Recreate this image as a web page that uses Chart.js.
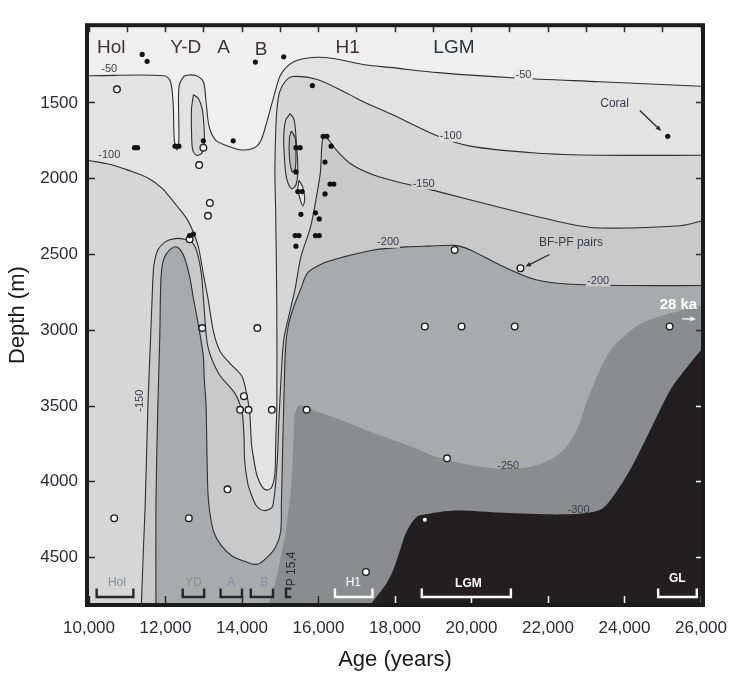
<!DOCTYPE html>
<html>
<head>
<meta charset="utf-8">
<script src="https://cdn.jsdelivr.net/npm/chart.js@4.4.1/dist/chart.umd.min.js"></script>
<style>
  html, body { margin: 0; padding: 0; background: #ffffff; }
  #wrap { width: 749px; height: 675px; }
</style>
</head>
<body>
<div id="wrap"><canvas id="sectionChart" width="749" height="675"></canvas></div>
<script>
// axis limits
const AGE_MIN = 10000, AGE_MAX = 26000;
const DEPTH_MIN = 1000, DEPTH_MAX = 4800;

// contour lines of the section, [age (years), depth (m)]
const contour50 = [[10000,1320],[11970,1320],[12130,1360],[12200,1505],[12230,1745],[12300,1810],[12350,1745],[12350,1400],[12480,1325],[12610,1315],[12810,1320],[12990,1360],[13060,1490],[13140,1655],[13310,1745],[13640,1785],[14000,1810],[14330,1795],[14500,1745],[14660,1615],[14830,1460],[15010,1315],[15340,1230],[15840,1200],[16350,1205],[17240,1250],[17870,1265],[19130,1300],[21160,1335],[23360,1360],[26000,1390]];
const contour100 = [[10000,1880],[10530,1905],[11040,1945],[11540,1995],[11920,2065],[12300,2180],[12560,2265],[12730,2355],[12860,2450],[12990,2630],[13110,2790],[13260,3015],[13440,3145],[13690,3220],[14000,3305],[14120,3420],[14200,3540],[14250,3755],[14330,3885],[14400,3965],[14530,4035],[14660,4055],[14780,4035],[14860,3945],[14880,3755],[14910,3500],[14910,2855],[14880,2215],[14860,1955],[14880,1700],[14910,1550],[14980,1430],[15140,1355],[15340,1325],[15970,1345],[16810,1445],[17240,1500],[17870,1570],[19130,1720],[19970,1785],[21660,1830],[23360,1845],[26000,1845]];
const loop100 = [[12730,1445],[12860,1470],[12960,1540],[13010,1670],[13010,1785],[12940,1835],[12810,1845],[12710,1810],[12680,1680],[12680,1540],[12730,1445]];
const contour150 = [[26000,2280],[25460,2310],[23360,2325],[22500,2295],[20830,2195],[19130,2085],[18300,2035],[17440,1975],[16860,1905],[16480,1815],[16270,1745],[16170,1725],[16100,1750],[16050,1955],[15970,2085],[15790,2320],[15540,2515],[15390,2725],[15240,2890],[15090,3065],[15010,3370],[14960,3625],[14930,3820],[14880,4010],[14830,4120],[14780,4170],[14580,4190],[14380,4160],[14230,4075],[14150,4010],[14070,3865],[14050,3690],[14000,3540],[13820,3420],[13390,3285],[13110,3110],[13010,2855],[12940,2630],[12830,2490],[12710,2425],[12500,2400],[12250,2395],[12000,2415],[11800,2470],[11700,2565],[11670,2665],[11640,2855],[11590,3175],[11540,3500],[11470,4140],[11420,4460],[11370,4800]];
const contour200 = [[26000,2705],[24190,2705],[22500,2695],[21660,2665],[20830,2580],[19970,2470],[19560,2440],[18880,2445],[18300,2450],[17440,2470],[16600,2520],[16150,2555],[15720,2620],[15540,2725],[15340,2855],[15210,2970],[15140,3110],[15090,3500],[15060,3820],[15030,4140],[15010,4330],[14880,4430],[14630,4505],[14380,4545],[14070,4525],[13740,4490],[13440,4415],[13260,4330],[13160,4205],[13110,4075],[13080,3755],[13060,3500],[13010,3305],[12990,3175],[12860,2965],[12730,2790],[12630,2645],[12480,2510],[12300,2450],[12130,2465],[11970,2520],[11900,2600],[11870,2745],[11850,3050],[11800,3500],[11750,4140],[11750,4800]];
const region250 = [[15460,3500],[15640,3500],[15890,3530],[16730,3605],[17560,3690],[18300,3755],[19130,3840],[19970,3890],[20830,3915],[21660,3895],[22350,3805],[22750,3660],[23000,3480],[23360,3260],[23640,3130],[23940,3050],[24370,2965],[25030,2900],[26000,2840],[26000,4800],[14710,4800],[14880,4655],[15140,4330],[15290,4010],[15340,3755],[15370,3560]];
const region300 = [[17390,4800],[17740,4685],[17940,4590],[18120,4460],[18300,4330],[18550,4235],[18800,4215],[19560,4190],[20830,4205],[22500,4215],[23360,4185],[23760,4075],[24190,3900],[24700,3645],[25210,3390],[25710,3220],[26000,3130],[26000,4800]];
const loopH1Outer = [[15260,1570],[15360,1610],[15410,1720],[15460,1935],[15410,2040],[15290,2065],[15160,1990],[15110,1860],[15090,1730],[15140,1615],[15260,1570]];
const loopH1Inner = [[15290,1685],[15390,1730],[15410,1830],[15390,1935],[15310,1955],[15240,1860],[15240,1730],[15290,1685]];
const loopH1Lower = [[15490,2010],[15590,2055],[15640,2135],[15590,2180],[15520,2135],[15460,2070],[15490,2010]];

// benthic-planktonic pairs (open circles)
const pairAge = [10730,12880,12990,13160,13110,12630,12960,14400,14050,13950,14170,14780,15690,13620,10660,12610,17240,19560,21280,18780,19740,21130,25180,19360];
const pairDepth = [1410,1910,1795,2160,2245,2400,2985,2985,3435,3525,3525,3525,3525,4050,4240,4240,4595,2470,2590,2975,2975,2975,2975,3845];
// coral samples (black dots)
const coralAge = [11390,11520,14350,15090,15840,13770,12250,12350,12990,11190,11270,12630,12730,15410,15520,15410,15460,15570,15540,15920,16020,15390,15490,15920,16020,15410,16120,16220,16330,16170,16300,16400,16170,25130];
const coralDepth = [1180,1225,1230,1195,1385,1750,1785,1785,1750,1795,1795,2375,2365,1795,1795,1955,2085,2085,2235,2225,2265,2375,2375,2375,2375,2445,1720,1720,1785,1890,2035,2035,2100,1720];
const deepAge = [18780];
const deepDepth = [4250];

// tick labels
const ageTicks = [10000,12000,14000,16000,18000,20000,22000,24000,26000];
const depthTicks = [1500,2000,2500,3000,3500,4000,4500];

Chart.defaults.font.family = "'Liberation Sans', Arial, Helvetica, sans-serif";

const onBoundary = p => p[0] === AGE_MIN || p[0] === AGE_MAX || p[1] === DEPTH_MAX;
// doubled edge points keep the spline from bulging at the frame
const pin = pts => pts.flatMap(p => onBoundary(p) ? [p, p] : [p]).map(p => ({ x: p[0], y: p[1] }));
const belowLeft = line => pin(line.concat([[AGE_MAX, DEPTH_MAX], [AGE_MIN, DEPTH_MAX]]));
const belowRight = line => pin(line.concat([[AGE_MAX, DEPTH_MAX]]));

const TENSION = 0.3;

function area(points, fillColor) {
  return {
    data: points, showLine: true, fill: 'shape', backgroundColor: fillColor,
    borderWidth: 0, pointRadius: 0, pointHoverRadius: 0, tension: TENSION
  };
}

function contourLine(points) {
  return {
    data: pin(points), showLine: true, fill: false, borderColor: '#2e2e2e',
    borderWidth: 1.1, pointRadius: 0, pointHoverRadius: 0, tension: TENSION
  };
}

function markers(ages, depths, radius, fillColor, lineColor, lineWidth) {
  return {
    data: ages.map((a, i) => ({ x: a, y: depths[i] })),
    pointRadius: radius, pointHoverRadius: radius,
    pointBackgroundColor: fillColor, pointBorderColor: lineColor, pointBorderWidth: lineWidth
  };
}

const layers = [
  area(belowLeft(contour50), '#e3e3e3'),
  area(belowLeft(contour100), '#d6d6d6'),
  area(pin(loop100), '#d6d6d6'),
  area(belowRight(contour150), '#c9c9c9'),
  area(belowRight(contour200), '#a9aaac'),
  area(pin(region250), '#8b8c8e'),
  area(pin(region300), '#231f20'),
  area(pin(loopH1Outer), '#cfcfcf'),
  area(pin(loopH1Inner), '#bdbdbd'),
  area(pin(loopH1Lower), '#e3e3e3'),
  contourLine(contour50),
  contourLine(contour100),
  contourLine(loop100),
  contourLine(contour150),
  contourLine(contour200),
  contourLine(loopH1Outer),
  contourLine(loopH1Inner),
  contourLine(loopH1Lower),
  markers(pairAge, pairDepth, 3.3, '#ffffff', '#1e1e1e', 1.4),
  markers(coralAge, coralDepth, 2.6, '#111111', '#111111', 0),
  markers(deepAge, deepDepth, 2, '#ffffff', '#ffffff', 0)
];
// first entry painted first
layers.forEach((ds, i) => { ds.order = layers.length - i; });

// text placed in the section, at [age, depth]
const notes = [
  { t: 'Hol', a: 10580, d: 1135, size: 19, color: '#3a3435' },
  { t: 'Y-D', a: 12530, d: 1135, size: 19, color: '#3a3435' },
  { t: 'A', a: 13520, d: 1135, size: 19, color: '#3a3435' },
  { t: 'B', a: 14500, d: 1150, size: 19, color: '#3a3435' },
  { t: 'H1', a: 16760, d: 1135, size: 19, color: '#3a3435' },
  { t: 'LGM', a: 19540, d: 1135, size: 19, color: '#2e3040' },
  { t: '-50', a: 10530, d: 1275, size: 11 },
  { t: '-100', a: 10530, d: 1845, size: 11 },
  { t: '-50', a: 21360, d: 1315, size: 11, bg: '#e9e9e9' },
  { t: '-100', a: 19460, d: 1720, size: 11, bg: '#dddddd' },
  { t: '-150', a: 18750, d: 2035, size: 11, bg: '#d0d0d0' },
  { t: '-200', a: 17820, d: 2420, size: 11, bg: '#c9c9c9' },
  { t: '-200', a: 23310, d: 2675, size: 11, bg: '#c9c9c9' },
  { t: '-150', a: 11320, d: 3465, size: 11, rot: -Math.PI / 2 },
  { t: '-250', a: 20960, d: 3895, size: 11 },
  { t: '-300', a: 22800, d: 4185, size: 11 },
  { t: 'Coral', a: 23740, d: 1505, size: 12 },
  { t: 'BF-PF pairs', a: 22600, d: 2425, size: 12 },
  { t: '28 ka', a: 25410, d: 2835, size: 15, bold: true, color: '#ffffff' },
  { t: 'Hol', a: 10730, d: 4665, size: 12, color: '#8a8c9c' },
  { t: 'YD', a: 12730, d: 4665, size: 12, color: '#8a8c9c' },
  { t: 'A', a: 13720, d: 4665, size: 12, color: '#8a8c9c' },
  { t: 'B', a: 14580, d: 4665, size: 12, color: '#8a8c9c' },
  { t: 'P 15,4', a: 15290, d: 4575, size: 12, rot: -Math.PI / 2, color: '#2a2a2a' },
  { t: 'H1', a: 16910, d: 4665, size: 12, color: '#ffffff' },
  { t: 'LGM', a: 19920, d: 4670, size: 12, bold: true, color: '#ffffff' },
  { t: 'GL', a: 25380, d: 4640, size: 12, bold: true, color: '#ffffff' }
];
// period brackets along the bottom
const brackets = [
  { from: 10200, to: 11160, color: '#262626' },
  { from: 12450, to: 13010, color: '#262626' },
  { from: 13440, to: 14000, color: '#262626' },
  { from: 14230, to: 14810, color: '#262626' },
  { from: 16430, to: 17410, color: '#ffffff' },
  { from: 18700, to: 21030, color: '#ffffff' },
  { from: 24880, to: 25890, color: '#ffffff' }
];
const arrows = [
  { from: [24400, 1550], to: [24960, 1685], color: '#2a2a2a' },
  { from: [22040, 2500], to: [21410, 2580], color: '#2a2a2a' },
  { from: [25510, 2925], to: [25870, 2925], color: '#ffffff' }
];

const sectionBackground = {
  id: 'sectionBackground',
  beforeDraw(chart) {
    const { ctx, chartArea: a } = chart;
    ctx.save();
    ctx.fillStyle = '#efefef';
    ctx.fillRect(a.left, a.top, a.right - a.left, a.bottom - a.top);
    ctx.restore();
  }
};

const sectionNotes = {
  id: 'sectionNotes',
  afterDatasetsDraw(chart) {
    const { ctx, scales: { x, y } } = chart;
    const px = v => x.getPixelForValue(v);
    const py = v => y.getPixelForValue(v);
    ctx.save();

    // brackets
    ctx.lineWidth = 2.4;
    brackets.forEach(b => {
      ctx.strokeStyle = b.color;
      ctx.beginPath();
      ctx.moveTo(px(b.from), py(4705));
      ctx.lineTo(px(b.from), py(4760));
      ctx.lineTo(px(b.to), py(4760));
      ctx.lineTo(px(b.to), py(4705));
      ctx.stroke();
    });
    // the short P 15,4 mark
    ctx.strokeStyle = '#262626';
    ctx.beginPath();
    ctx.moveTo(px(15290), py(4705));
    ctx.lineTo(px(15150), py(4705));
    ctx.lineTo(px(15150), py(4760));
    ctx.lineTo(px(15290), py(4760));
    ctx.stroke();

    // arrows
    arrows.forEach(ar => {
      const x1 = px(ar.from[0]), y1 = py(ar.from[1]), x2 = px(ar.to[0]), y2 = py(ar.to[1]);
      const ang = Math.atan2(y2 - y1, x2 - x1);
      ctx.strokeStyle = ar.color;
      ctx.fillStyle = ar.color;
      ctx.lineWidth = 1.3;
      ctx.beginPath();
      ctx.moveTo(x1, y1);
      ctx.lineTo(x2 - 4 * Math.cos(ang), y2 - 4 * Math.sin(ang));
      ctx.stroke();
      ctx.beginPath();
      ctx.moveTo(x2, y2);
      ctx.lineTo(x2 - 6 * Math.cos(ang - 0.4), y2 - 6 * Math.sin(ang - 0.4));
      ctx.lineTo(x2 - 6 * Math.cos(ang + 0.4), y2 - 6 * Math.sin(ang + 0.4));
      ctx.closePath();
      ctx.fill();
    });

    // labels
    ctx.textAlign = 'center';
    ctx.textBaseline = 'middle';
    notes.forEach(n => {
      ctx.save();
      ctx.translate(px(n.a), py(n.d));
      if (n.rot) ctx.rotate(n.rot);
      ctx.font = (n.bold ? 'bold ' : '') + n.size + "px 'Liberation Sans', Arial, sans-serif";
      if (n.bg) {
        const w = ctx.measureText(n.t).width;
        ctx.fillStyle = n.bg;
        ctx.fillRect(-w / 2 - 1, -n.size / 2, w + 2, n.size);
      }
      ctx.fillStyle = n.color || '#3c3c4c';
      ctx.fillText(n.t, 0, 0);
      ctx.restore();
    });
    ctx.restore();
  },
  afterDraw(chart) {
    const { ctx, chartArea: a } = chart;
    ctx.save();
    ctx.strokeStyle = '#1c1c1c';
    ctx.lineWidth = 4;
    ctx.strokeRect(a.left - 2, a.top - 2, a.right - a.left + 4, a.bottom - a.top + 4);
    ctx.restore();
  }
};

const tickInk = '#2a2a2a';

new Chart(document.getElementById('sectionChart'), {
  type: 'scatter',
  data: { datasets: layers },
  options: {
    responsive: false,
    animation: false,
    events: [],
    layout: { padding: { top: 11, right: 28, bottom: 0, left: 0 } },
    plugins: { legend: { display: false }, tooltip: { enabled: false } },
    scales: {
      x: {
        type: 'linear', position: 'bottom', min: AGE_MIN, max: AGE_MAX,
        afterBuildTicks: s => { s.ticks = ageTicks.map(v => ({ value: v })); },
        ticks: { padding: 22, color: '#2b2b35', font: { size: 17 }, callback: v => v.toLocaleString('en-US') },
        grid: { z: 1, drawOnChartArea: false, tickLength: -7, tickWidth: 1.5,
          tickColor: ctx => ctx.tick && ctx.tick.value >= 18000 ? '#ffffff' : tickInk },
        border: { display: false },
        title: { display: true, text: 'Age (years)', color: '#1a1a1a', font: { size: 22 }, padding: { top: 0, bottom: 2 } },
        afterFit: s => { s.height = 72; }
      },
      xTop: {
        type: 'linear', position: 'top', min: AGE_MIN, max: AGE_MAX,
        ticks: { display: false, stepSize: 1000 },
        grid: { z: 1, drawOnChartArea: false, tickLength: -5, tickWidth: 1.5, tickColor: tickInk },
        border: { display: false },
        afterFit: s => { s.height = 0; }
      },
      y: {
        type: 'linear', position: 'left', reverse: true, min: DEPTH_MIN, max: DEPTH_MAX,
        afterBuildTicks: s => { s.ticks = depthTicks.map(v => ({ value: v })); },
        ticks: { padding: 17, color: '#2b2b35', font: { size: 17 }, callback: v => String(v) },
        grid: { z: 1, drawOnChartArea: false, tickLength: -6, tickWidth: 1.5, tickColor: tickInk },
        border: { display: false },
        title: { display: true, text: 'Depth (m)', color: '#1a1a1a', font: { size: 22 }, padding: { top: 5, bottom: 0 } },
        afterFit: s => { s.width = 89; }
      },
      yRight: {
        type: 'linear', position: 'right', reverse: true, min: DEPTH_MIN, max: DEPTH_MAX,
        afterBuildTicks: s => { s.ticks = depthTicks.map(v => ({ value: v })); },
        ticks: { display: false },
        grid: { z: 1, drawOnChartArea: false, tickLength: -5, tickWidth: 1.5,
          tickColor: ctx => ctx.tick && ctx.tick.value >= 3500 ? '#ffffff' : tickInk },
        border: { display: false },
        afterFit: s => { s.width = 0; }
      }
    }
  },
  plugins: [sectionBackground, sectionNotes]
});
</script>
</body>
</html>
